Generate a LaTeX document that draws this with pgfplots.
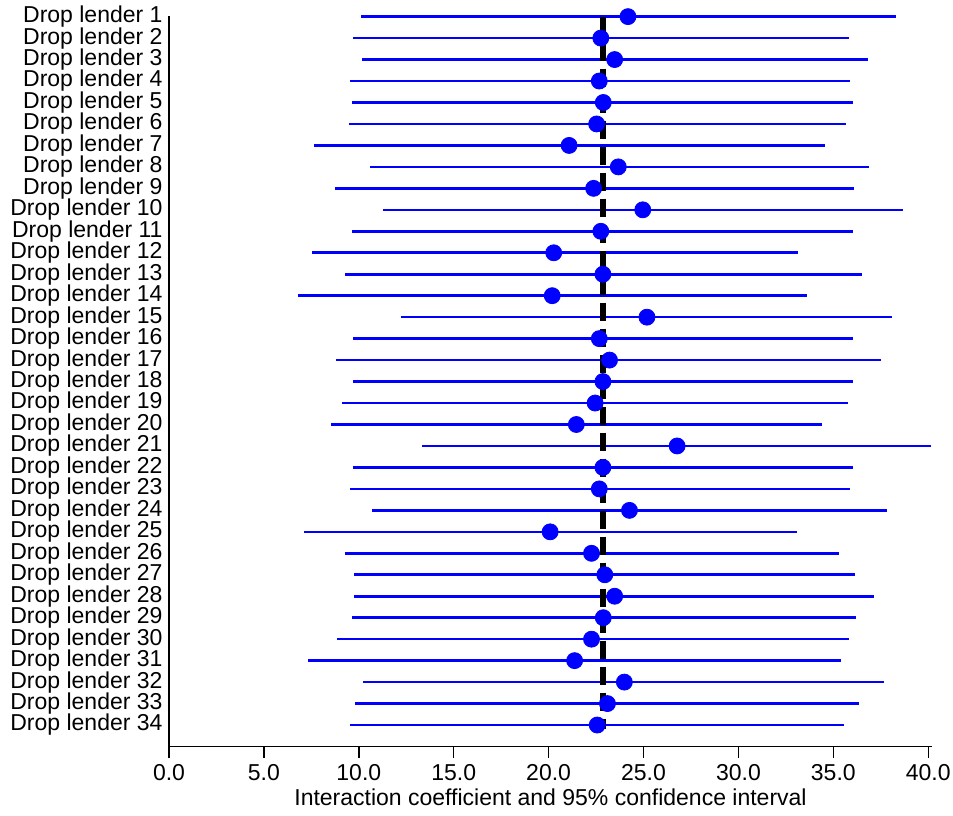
\documentclass[border=0pt]{standalone}
\usepackage{pgfplots}
\pgfplotsset{compat=1.18}
\usepackage{pgfplotstable}
\usepackage{fontspec}
\setmainfont{Liberation Sans}

\pgfplotstableread{
row lo est hi
1 10.13 24.18 38.30
2 9.70 22.75 35.85
3 10.19 23.48 36.82
4 9.51 22.67 35.88
5 9.65 22.88 36.04
6 9.46 22.53 35.69
7 7.65 21.08 34.58
8 10.59 23.67 36.87
9 8.73 22.37 36.09
10 11.27 24.96 38.65
11 9.65 22.75 36.04
12 7.52 20.27 33.13
13 9.25 22.86 36.50
14 6.79 20.19 33.61
15 12.24 25.18 38.11
16 9.68 22.67 36.04
17 8.81 23.21 37.49
18 9.68 22.86 36.04
19 9.11 22.45 35.77
20 8.52 21.46 34.39
21 13.32 26.77 40.16
22 9.68 22.86 36.04
23 9.54 22.67 35.90
24 10.67 24.26 37.82
25 7.12 20.08 33.07
26 9.27 22.26 35.31
27 9.76 22.96 36.15
28 9.76 23.48 37.14
29 9.62 22.88 36.20
30 8.87 22.26 35.80
31 7.30 21.37 35.39
32 10.22 23.99 37.65
33 9.78 23.10 36.36
34 9.54 22.56 35.55
}\lenders

\begin{document}
\begin{tikzpicture}
\begin{axis}[
  scale only axis,
  width=381.5pt, height=365.25pt,
  xmin=0, xmax=40.2, ymin=0, ymax=34.03,
  clip=false,
  axis x line*=bottom, axis y line*=left,
  axis line style={line width=0.7pt},
  xtick={0,5,...,40},
  xticklabel style={/pgf/number format/.cd, fixed, fixed zerofill, precision=1, assume math mode=true},
  tick style={black, line width=0.7pt},
  major tick length=5.5pt,
  tick align=outside,
  ytick={1,...,34},
  yticklabel={Drop lender \pgfmathparse{int(35-\tick)}\pgfmathresult},
  ytick style={draw=none},
  yticklabel style={xshift=5.8pt},
  tick label style={font=\fontsize{11.5}{13}\selectfont},
  label style={font=\fontsize{11.5}{13}\selectfont},
  xlabel={Interaction coefficient and 95\% confidence interval},
  xlabel style={yshift=3pt},
]
\addplot[only marks, mark=none,
  error bars/.cd, x dir=both, x explicit,
  error mark=none,
  error bar style={blue, line width=1.3pt}]
  table[x=est, y expr=35-\thisrow{row},
        x error plus expr=\thisrow{hi}-\thisrow{est},
        x error minus expr=\thisrow{est}-\thisrow{lo}] {\lenders};
\addplot[only marks, mark=*, mark size=4pt, mark options={draw=blue, fill=blue}]
  table[x=est, y expr=35-\thisrow{row}] {\lenders};
\addplot[black, line width=2.8pt, dash pattern=on 9pt off 4pt]
  coordinates {(22.86,34) (22.86,0.8)};
\coordinate (bbsw) at (rel axis cs:-0.2215,-0.0938);
\coordinate (bbne) at (rel axis cs:1.0275,1.0219);
\end{axis}
\pgfresetboundingbox
\path (bbsw) rectangle (bbne);
\end{tikzpicture}
\end{document}
